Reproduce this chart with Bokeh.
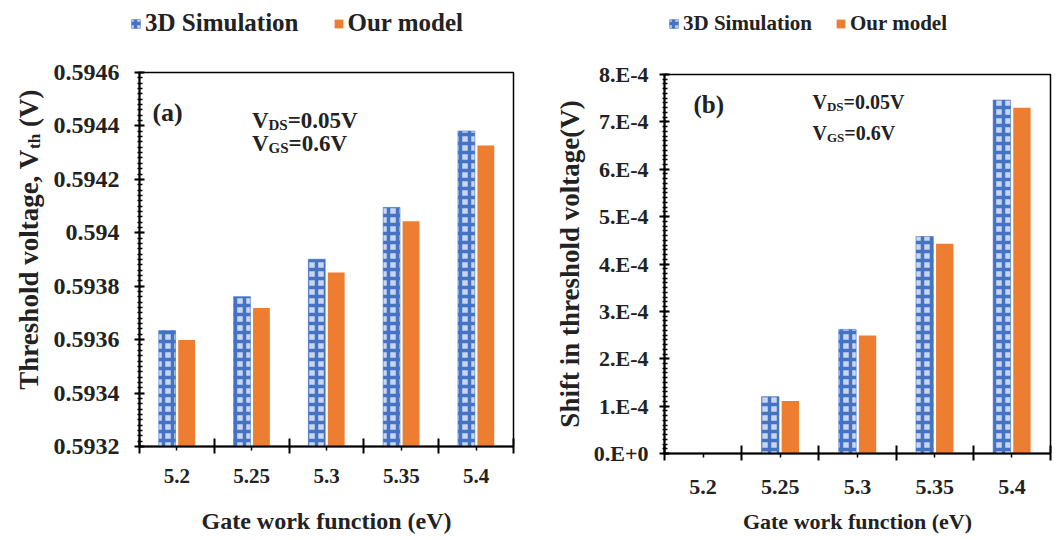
import math
import numpy as np
from bokeh.plotting import figure
from bokeh.layouts import row, column
from bokeh.models import (Range1d, FixedTicker, Legend, LegendItem, Label,
                          ColumnDataSource, CustomJSTickFormatter)
from bokeh.transform import dodge
from bokeh.embed import file_html
from bokeh.resources import INLINE

# ---------------- data ----------------
categories = ["5.2", "5.25", "5.3", "5.35", "5.4"]
vth_sim = [0.593634, 0.593761, 0.593901, 0.594095, 0.594381]
vth_model = [0.593599, 0.593718, 0.593851, 0.594043, 0.594327]
shift_sim = [0.0, 1.20e-4, 2.62e-4, 4.58e-4, 7.46e-4]
shift_model = [0.0, 1.11e-4, 2.49e-4, 4.43e-4, 7.30e-4]

ticks_a = [0.5932, 0.5934, 0.5936, 0.5938, 0.594, 0.5942, 0.5944, 0.5946]
tick_labels_a = ["0.5932", "0.5934", "0.5936", "0.5938", "0.594", "0.5942", "0.5944", "0.5946"]
ticks_b = [0.0, 0.0001, 0.0002, 0.0003, 0.0004, 0.0005, 0.0006, 0.0007, 0.0008]
tick_labels_b = ["0.E+0", "1.E-4", "2.E-4", "3.E-4", "4.E-4", "5.E-4", "6.E-4", "7.E-4", "8.E-4"]

series_names = ["3D Simulation", "Our model"]
x_title = "Gate work function (eV)"
y_title_b = "Shift in threshold voltage(V)"

# ---------------- style ----------------
FONT = "Liberation Serif"
BLUE = "#4472C4"
LIGHTBLUE = "#c9d6ee"
ORANGE = "#ED7D31"
TXT = "#222222"
OFF = 0.13
BAR_W = 0.225

centers = [i + 0.5 for i in range(len(categories))]
bounds = [float(i) for i in range(len(categories) + 1)]

NEAREST_JS = """
let best = 0;
for (let i = 0; i < vals.length; i++) {
  if (Math.abs(vals[i] - tick) < Math.abs(vals[best] - tick)) best = i;
}
return labels[best];
"""


def fmt(vals, labels):
    return CustomJSTickFormatter(args=dict(vals=list(vals), labels=list(labels)), code=NEAREST_JS)


def blank_fig(width, height, top=0, bottom=0):
    p = figure(width=width, height=height, output_backend="svg", toolbar_location=None,
               x_range=Range1d(0, width), y_range=Range1d(0, height - top - bottom),
               x_axis_type=None, y_axis_type=None,
               min_border_left=0, min_border_right=0,
               min_border_top=top, min_border_bottom=bottom)
    p.outline_line_color = None
    p.background_fill_color = "white"
    p.border_fill_color = "white"
    return p


def base_fig(width, height, mb_left, mb_right, mb_top, mb_bottom, y0, y1, yticks, ylabels, yminor,
             xtick_size, ytick_size, xtitle_size):
    p = figure(width=width, height=height, output_backend="svg", toolbar_location=None,
               x_range=Range1d(0, len(categories)), y_range=Range1d(y0, y1),
               min_border_left=mb_left, min_border_right=mb_right,
               min_border_top=mb_top, min_border_bottom=mb_bottom)
    p.xgrid.visible = False
    p.ygrid.visible = False
    p.outline_line_color = "black"
    p.outline_line_width = 1.5
    p.background_fill_color = "white"
    p.border_fill_color = "white"

    xa = p.xaxis[0]
    xa.ticker = FixedTicker(ticks=centers, minor_ticks=bounds)
    xa.formatter = fmt(centers, categories)
    xa.major_tick_in = 0
    xa.major_tick_out = 4
    xa.minor_tick_in = 8
    xa.minor_tick_out = 7
    xa.major_tick_line_width = 1.5
    xa.minor_tick_line_width = 2
    xa.axis_line_width = 2
    xa.axis_line_color = "black"
    xa.major_label_text_font = FONT
    xa.major_label_text_font_style = "bold"
    xa.major_label_text_font_size = xtick_size
    xa.major_label_text_color = TXT
    xa.axis_label = x_title
    xa.axis_label_text_font = FONT
    xa.axis_label_text_font_style = "bold"
    xa.axis_label_text_font_size = xtitle_size
    xa.axis_label_text_color = TXT

    ya = p.yaxis[0]
    ya.ticker = FixedTicker(ticks=yticks, minor_ticks=yminor)
    ya.formatter = fmt(yticks, ylabels)
    ya.major_tick_in = 5
    ya.major_tick_out = 5
    ya.minor_tick_in = 3
    ya.minor_tick_out = 2
    ya.major_tick_line_width = 2
    ya.minor_tick_line_width = 1.5
    ya.axis_line_width = 2
    ya.axis_line_color = "black"
    ya.major_label_text_font = FONT
    ya.major_label_text_font_style = "bold"
    ya.major_label_text_font_size = ytick_size
    ya.major_label_text_color = TXT
    return p


SIM_STYLE = dict(fill_color=LIGHTBLUE, line_color=BLUE, line_width=1, line_alpha=0.6,
                 hatch_pattern="+", hatch_color=BLUE, hatch_scale=9, hatch_weight=3.5)
MOD_STYLE = dict(fill_color=ORANGE, line_color=None)


def add_bars(p, sim, model, bottom):
    src = ColumnDataSource(dict(x=centers, sim=sim, model=model))
    p.vbar(x=dodge("x", -OFF), width=BAR_W, top="sim", bottom=bottom, source=src, **SIM_STYLE)
    p.vbar(x=dodge("x", OFF), width=BAR_W, top="model", bottom=bottom, source=src, **MOD_STYLE)


def legend_fig(width, height, loc, spacing, size):
    p = blank_fig(width, height)
    # legend proxies: a single zero-height bar placed outside the visible range
    proxy = ColumnDataSource(dict(x=[-100.0], top=[0.0]))
    r1 = p.vbar(x="x", top="top", bottom=0, width=1, source=proxy, **SIM_STYLE)
    r2 = p.vbar(x="x", top="top", bottom=0, width=1, source=proxy, **MOD_STYLE)
    leg = Legend(items=[LegendItem(label=series_names[0], renderers=[r1]),
                        LegendItem(label=series_names[1], renderers=[r2])],
                 location=loc, orientation="horizontal", spacing=spacing,
                 padding=0, margin=0, label_standoff=4,
                 glyph_width=11, glyph_height=11,
                 label_text_font=FONT, label_text_font_style="bold",
                 label_text_font_size=size, label_text_color=TXT,
                 border_line_alpha=0, background_fill_alpha=0)
    p.add_layout(leg)
    return p


def txt(p, x, y, text, size, xo=0, yo=0, angle=0.0, baseline="alphabetic"):
    p.add_layout(Label(x=x, y=y, text=text, x_offset=xo, y_offset=yo, angle=angle,
                       text_font=FONT, text_font_style="bold", text_font_size=size,
                       text_color=TXT, text_align="left", text_baseline=baseline))


def conditions(p, x, y_ds, y_gs, main, sub):
    v_w = 0.722 * main
    txt(p, x, y_ds, "V", f"{main}px")
    txt(p, x, y_ds, "DS", f"{sub}px", xo=v_w, yo=-0.22 * main)
    txt(p, x, y_ds, "=0.05V", f"{main}px", xo=v_w + 1.278 * sub)
    txt(p, x, y_gs, "V", f"{main}px")
    txt(p, x, y_gs, "GS", f"{sub}px", xo=v_w, yo=-0.22 * main)
    txt(p, x, y_gs, "=0.6V", f"{main}px", xo=v_w + 1.334 * sub)


TOP_H = 48
MAIN_H = 488
A_TOP, A_BOT = 24, 89      # panel (a) frame: y 72 .. 447
B_TOP, B_BOT = 26, 82      # panel (b) frame: y 74 .. 454

# ---------------- legends ----------------
la = legend_fig(530, TOP_H, (130, 11), 34, "25px")
lb = legend_fig(522, TOP_H, (4, 12), 23, "21px")

# ---------------- left title strip (vertical title with subscript) ----------------
yl = blank_fig(50, MAIN_H, A_TOP, A_BOT)
ax, ay = 28, 57
main_sz, sub_sz = 27, 17
w1 = 8.917 * main_sz
txt(yl, ax, ay, "Threshold voltage, V", f"{main_sz}px", angle=math.pi / 2, baseline="middle")
txt(yl, ax, ay, "th", f"{sub_sz}px", yo=w1, xo=6, angle=math.pi / 2, baseline="middle")
txt(yl, ax, ay, "(V)", f"{main_sz}px", yo=w1 + 0.889 * sub_sz + 0.25 * main_sz,
    angle=math.pi / 2, baseline="middle")

# ---------------- panel (a) ----------------
minor_a = list(np.linspace(ticks_a[0], ticks_a[-1], 71))
pa = base_fig(480, MAIN_H, 87, 17, A_TOP, A_BOT, ticks_a[0], ticks_a[-1], ticks_a, tick_labels_a, minor_a,
              "21px", "24px", "24px")
pa.xaxis[0].major_label_standoff = 15
pa.xaxis[0].axis_label_standoff = 22
pa.yaxis[0].major_label_standoff = 15
add_bars(pa, vth_sim, vth_model, ticks_a[0])
txt(pa, 0.173, 0.594451, "(a)", "26px", baseline="middle")
conditions(pa, 1.503, 0.594421, 0.594335, 23, 15)

# ---------------- panel (b) ----------------
minor_b = list(np.linspace(ticks_b[0], ticks_b[-1], 81))
pb = base_fig(522, MAIN_H, 134, 2, B_TOP, B_BOT, ticks_b[0], ticks_b[-1], ticks_b, tick_labels_b, minor_b,
              "22px", "22px", "22px")
pb.xaxis[0].major_label_standoff = 19
pb.xaxis[0].axis_label_standoff = 12
pb.yaxis[0].major_label_standoff = 11
pb.yaxis[0].axis_label = y_title_b
pb.yaxis[0].axis_label_standoff = 6
pb.yaxis[0].axis_label_text_font = FONT
pb.yaxis[0].axis_label_text_font_style = "bold"
pb.yaxis[0].axis_label_text_font_size = "27px"
pb.yaxis[0].axis_label_text_color = TXT
add_bars(pb, shift_sim, shift_model, 0.0)
txt(pb, 0.376, 7.368e-4, "(b)", "25px", baseline="middle")
conditions(pb, 1.917, 7.41e-4, 6.757e-4, 20, 13)

layout = row(column(la, row(yl, pa)), column(lb, pb))
with open("out.html", "w") as f:
    f.write(file_html(layout, INLINE))
